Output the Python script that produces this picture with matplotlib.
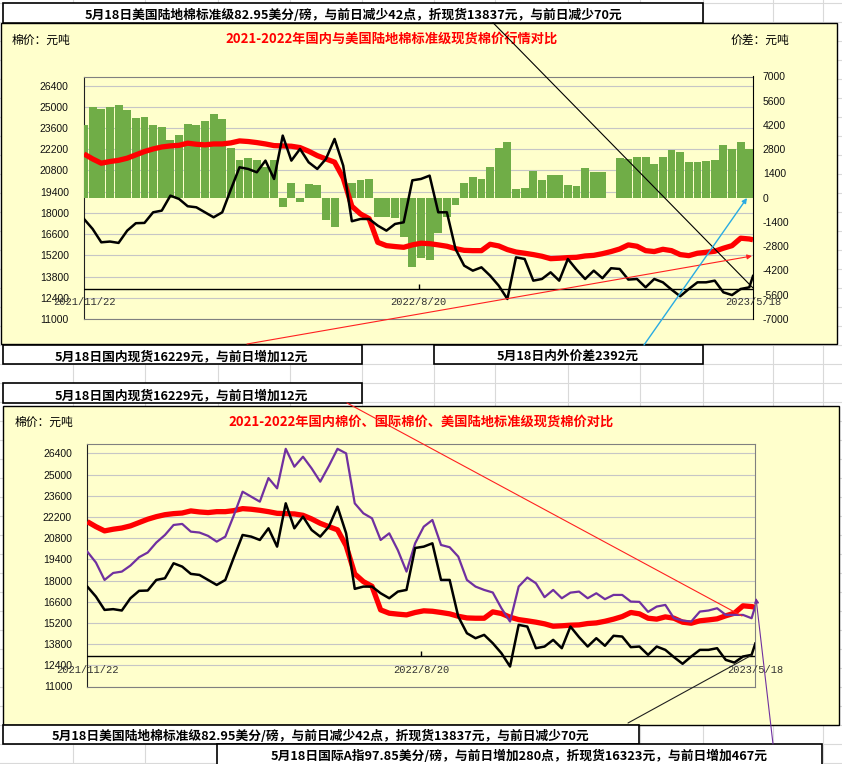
import numpy as np
import pandas as pd
import matplotlib
matplotlib.use('Agg')
import matplotlib.pyplot as plt
from matplotlib.patches import Rectangle, FancyArrowPatch
from matplotlib.lines import Line2D

plt.rcParams['font.family'] = ['Noto Sans CJK SC', 'DejaVu Sans']

# ---------------- data ----------------
start_date = '2021-11-22'
end_date = '2023-05-18'
dates = list(pd.date_range(start_date, periods=78, freq='7D')) + [pd.Timestamp(end_date)]

# 国内现货 (red)
domestic = [21890, 21560, 21280, 21390, 21470, 21610, 21830, 22050, 22220, 22350,
            22420, 22460, 22600, 22530, 22490, 22550, 22550, 22620, 22750, 22710,
            22640, 22550, 22440, 22420, 22400, 22310, 22070, 21780, 21560, 21350,
            20300, 18440, 17930, 17620, 16060, 15840, 15780, 15730, 15890, 16000,
            15970, 15890, 15800, 15640, 15530, 15510, 15510, 15930, 15820, 15580,
            15420, 15340, 15250, 15140, 14980, 15010, 15050, 15070, 15160, 15200,
            15310, 15450, 15620, 15890, 15800, 15510, 15450, 15600, 15510, 15250,
            15180, 15340, 15400, 15470, 15670, 15840, 16330, 16280, 16229]

# 美国陆地棉标准级折现货 (black)
us_spot = [17600, 16940, 16060, 16110, 16020, 16830, 17320, 17340, 18040, 18150,
           19140, 18920, 18440, 18370, 18040, 17710, 18040, 19550, 21010, 20900,
           20680, 21450, 20240, 23100, 21450, 22220, 21340, 20900, 21560, 22880,
           21120, 17450, 17600, 17600, 17160, 16830, 17270, 17380, 20150, 20240,
           20460, 18040, 18040, 15620, 14520, 14190, 14410, 13860, 13200, 12320,
           15070, 14960, 13530, 13640, 14080, 13530, 14960, 14260, 13640, 14190,
           13690, 14350, 14300, 13600, 13640, 13090, 13640, 13420, 12940, 12500,
           12980, 13420, 13420, 13530, 12760, 12580, 12980, 13090, 13837]

# 国际A指折现货 (purple)
intl_a = [19910, 19190, 18040, 18500, 18590, 18990, 19540, 19850, 20510, 21010,
          21670, 21740, 21230, 21170, 20950, 20570, 20900, 22330, 23870, 23540,
          23210, 24770, 24090, 26700, 25520, 26180, 25410, 24530, 25570, 26700,
          26400, 23100, 22440, 22110, 20680, 21120, 20000, 18590, 20460, 21560,
          22000, 20350, 20200, 19580, 18040, 17600, 17380, 17210, 16170, 15290,
          17600, 18200, 17820, 16900, 17380, 16830, 17200, 17270, 16830, 17160,
          16770, 17050, 17050, 16610, 16590, 15930, 16280, 16390, 15510, 15360,
          15290, 15950, 16020, 16170, 15730, 15730, 15730, 15510, 16323]

# 内外价差 (green bars)
spread = [4220, 5240, 5150, 5240, 5340, 5050, 4630, 4670, 4190, 4090,
          3360, 3610, 4280, 4190, 4440, 4820, 4570, 2900, 2170, 2320,
          2170, 1790, 2170, -520, 860, -230, 790, 730, -1290, -1670,
          -40, 860, 1020, 1110, -1090, -1090, -1190, -2250, -3970, -3490,
          -3590, -2050, -1090, -420, 830, 1210, 1110, 1790, 2900, 3230,
          480, 540, 1560, 1020, 1310, 1310, 730, 670, 1690, 1500,
          1500, np.nan, 2320, 2210, 2360, 2360, 1940, 2360, 2750, 2650,
          2070, 2070, 2130, 2170, 3030, 2840, 3230, 2840, 2392]

left_ticks = [11000, 12400, 13800, 15200, 16600, 18000, 19400, 20800, 22200, 23600, 25000, 26400]
right_ticks = [-7000, -5600, -4200, -2800, -1400, 0, 1400, 2800, 4200, 5600, 7000]
date_labels = ['2021/11/22', '2022/8/20', '2023/5/18']
axis_cross = 13000

title_top = '2021-2022年国内与美国陆地棉标准级现货棉价行情对比'
title_bottom = '2021-2022年国内棉价、国际棉价、美国陆地标准级现货棉价对比'
txt_us = '5月18日美国陆地棉标准级82.95美分/磅，与前日减少42点，折现货13837元，与前日减少70元'
txt_dom = '5月18日国内现货16229元，与前日增加12元'
txt_spread = '5月18日内外价差2392元'
txt_a = '5月18日国际A指97.85美分/磅，与前日增加280点，折现货16323元，与前日增加467元'

# ---------------- layout ----------------
W, H = 842, 764
fig = plt.figure(figsize=(W / 100, H / 100), dpi=100)
fig.patch.set_facecolor('white')

def fxy(x, y):
    return (x / W, 1 - y / H)

# spreadsheet grid
sheet_cols = [72.5, 145, 217.5, 290, 362, 434, 495, 568, 640, 703, 773, 823]
for x in sheet_cols:
    fig.add_artist(Line2D([x / W, x / W], [0, 1], color='#D9D9D9', lw=0.8,
                          transform=fig.transFigure, zorder=-10))
for y in np.arange(3, H, 19):
    fig.add_artist(Line2D([0, 1], [1 - y / H, 1 - y / H], color='#D9D9D9', lw=0.8,
                          transform=fig.transFigure, zorder=-10))

def rect(x0, y0, x1, y1, fc, ec='black', lw=1.0, z=-5):
    fig.add_artist(Rectangle((x0 / W, 1 - y1 / H), (x1 - x0) / W, (y1 - y0) / H,
                             transform=fig.transFigure, fc=fc, ec=ec, lw=lw, zorder=z))

PANEL = '#FFFFCC'
rect(0.5, 22.7, 837, 343.5, PANEL)
rect(3.3, 405.5, 839.3, 725, PANEL)

# text boxes
rect(3, 3, 703, 22.7, 'white', lw=1.2, z=3)
rect(3, 345, 362, 364.3, 'white', lw=1.2, z=3)
rect(434, 345, 703, 364.3, 'white', lw=1.2, z=3)
rect(3, 383.3, 362, 402.7, 'white', lw=1.2, z=3)
rect(3, 725, 639, 744, 'white', lw=1.2, z=3)
rect(217, 744, 822, 770, 'white', lw=1.2, z=3)

def ftext(x, y, s, **kw):
    fig.text(x / W, 1 - y / H, s, ha='center', va='center', zorder=4, **kw)

BOX_FS = 9.2
ftext(353, 15.5, txt_us, fontsize=BOX_FS, weight='bold')
ftext(181.5, 356.5, txt_dom, fontsize=BOX_FS, weight='bold')
ftext(568, 356.5, txt_spread, fontsize=BOX_FS, weight='bold')
ftext(181.5, 395.5, txt_dom, fontsize=BOX_FS, weight='bold')
ftext(320.5, 736, txt_us, fontsize=BOX_FS, weight='bold')
ftext(519.5, 756.5, txt_a, fontsize=BOX_FS, weight='bold')

ftext(41, 40, '棉价：元吨', fontsize=8.5)
ftext(760, 40, '价差：元吨', fontsize=8.5)
ftext(392, 40, title_top, fontsize=9.5, weight='bold', color='#FF0000')
ftext(44, 422, '棉价：元吨', fontsize=8.5)
ftext(421.5, 421.5, title_bottom, fontsize=9.5, weight='bold', color='#FF0000')

# ---------------- charts ----------------
RED, BLACK, PURPLE, GREEN = '#FF0000', '#000000', '#7030A0', '#70AD47'
TICK_FONT = dict(family=['Liberation Sans', 'DejaVu Sans'], size=7.5)
DATE_FONT = ['Liberation Mono', 'DejaVu Sans Mono']
x0, x1 = pd.Timestamp(start_date), pd.Timestamp(end_date)
label_dates = [pd.Timestamp('2021-11-22'), pd.Timestamp('2022-08-20'), pd.Timestamp('2023-05-18')]

def style_left(ax):
    ax.set_facecolor('none')
    ax.set_xlim(x0, x1)
    ax.set_ylim(11000, 27000)
    ax.set_xticks([])
    ax.set_yticks(left_ticks)
    ax.set_yticklabels([str(v) for v in left_ticks], fontfamily=TICK_FONT['family'],
                       fontsize=TICK_FONT['size'], color='#111111')
    ax.tick_params(axis='y', length=0, pad=11)
    ax.grid(axis='y', color='#C6C6C6', lw=0.8)
    ax.spines['left'].set_color('#202020')
    for s in ('top', 'bottom', 'right'):
        ax.spines[s].set_color('#808080')

def date_axis(ax, off):
    ax.axhline(axis_cross, color='black', lw=1.0, zorder=3)
    ax.plot([label_dates[1]], [axis_cross], marker=2, ms=3.5, color='black', zorder=3)
    for d, lab in zip(label_dates, date_labels):
        ax.annotate(lab, xy=(d, axis_cross), xytext=(0, off), textcoords='offset points',
                    ha='center', va='center', fontsize=7.5, family=DATE_FONT,
                    color='#333333', annotation_clip=False, zorder=5)

# top chart
ax1 = fig.add_axes([84 / W, 1 - 319 / H, (753 - 84) / W, (319 - 76.5) / H])
style_left(ax1)
ax1.spines['right'].set_visible(False)
ax1.set_zorder(0)

ax1b = ax1.twinx()
ax1b.set_zorder(0.5)
ax1b.bar(dates, spread, width=6.4, color=GREEN, linewidth=0)
ax1b.set_ylim(-7000, 7000)
ax1b.set_yticks(right_ticks)
ax1b.set_yticklabels([f'{v}' for v in right_ticks], fontfamily=TICK_FONT['family'],
                     fontsize=TICK_FONT['size'], color='#111111')
ax1b.tick_params(axis='y', length=0, pad=7)
for s in ('top', 'bottom', 'left'):
    ax1b.spines[s].set_visible(False)
ax1b.spines['right'].set_color('black')

ax1c = ax1.twinx()
ax1c.set_zorder(1)
ax1c.set_ylim(11000, 27000)
ax1c.set_yticks([])
for s in ax1c.spines.values():
    s.set_visible(False)
ax1c.plot(dates, domestic, color=RED, lw=3.8, solid_capstyle='butt')
ax1c.plot(dates, us_spot, color=BLACK, lw=1.8)
date_axis(ax1c, -9.4)
ax1c.set_xlim(x0, x1)

# bottom chart
ax2 = fig.add_axes([87.3 / W, 1 - 686.5 / H, (755.3 - 87.3) / W, (686.5 - 444.3) / H])
style_left(ax2)
ax2.plot(dates, domestic, color=RED, lw=3.8, solid_capstyle='butt', zorder=3)
ax2.plot(dates, intl_a, color=PURPLE, lw=1.6, zorder=4)
ax2.plot(dates, us_spot, color=BLACK, lw=1.8, zorder=4)
date_axis(ax2, -10)

# ---------------- connector lines ----------------
def connector(p0, p1, color, lw=0.8, head=True):
    a = FancyArrowPatch(fxy(*p0), fxy(*p1), transform=fig.transFigure,
                        arrowstyle='-|>' if head else '-', mutation_scale=7,
                        color=color, lw=lw, shrinkA=0, shrinkB=0, zorder=6)
    fig.add_artist(a)

connector((493, 22.7), (753, 288), 'black', head=False)
connector((247, 344), (752, 256), '#FF2020')
connector((644, 345), (747, 198), '#29ABE2', lw=1.0)
connector((347, 403), (742, 616), '#FF2020', head=False)
connector((628, 723), (752, 655), '#202020', head=False)
connector((773, 744), (756, 598), PURPLE)

fig.savefig('out.png', dpi=100, facecolor='white')
